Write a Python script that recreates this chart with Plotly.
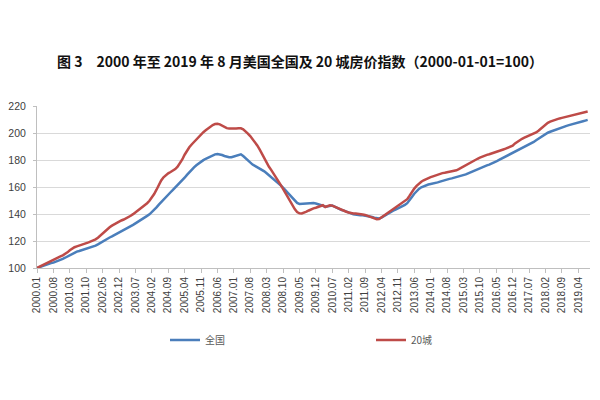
import plotly.graph_objects as go

years = list(range(2000, 2020))
months = [f"{y}.{m:02d}" for y in years for m in range(1, 13)][:236]

national = [
    # 2000
    100.0, 100.6, 101.3, 102.1, 102.8, 103.3, 103.6, 104.0, 104.6, 105.3, 106.0, 106.8,
    # 2001
    107.6, 108.6, 109.7, 110.7, 111.5, 112.1, 112.6, 113.1, 113.6, 114.2, 114.8, 115.3,
    # 2002
    115.9, 116.6, 117.5, 118.6, 119.8, 120.9, 121.8, 122.6, 123.4, 124.3, 125.2, 126.2,
    # 2003
    127.1, 127.9, 128.8, 129.8, 130.9, 132.0, 133.1, 134.1, 135.1, 136.2, 137.4, 138.6,
    # 2004
    139.8, 141.3, 143.0, 144.9, 146.9, 148.9, 150.7, 152.5, 154.3, 156.1, 157.9, 159.6,
    # 2005
    161.2, 162.9, 164.8, 166.9, 169.0, 171.0, 172.8, 174.5, 176.1, 177.5, 178.8, 179.9,
    # 2006
    180.9, 181.8, 182.7, 183.5, 184.2, 184.5, 184.3, 183.7, 183.0, 182.4, 182.0, 182.0,
    # 2007
    182.5, 183.3, 184.0, 184.2, 182.9, 181.2, 179.3, 177.8, 176.6, 175.6, 174.7, 173.9,
    # 2008
    172.9, 171.6, 170.2, 168.8, 167.4, 166.0, 164.5, 162.9, 161.2, 159.5, 157.6, 155.6,
    # 2009
    153.5, 151.4, 149.6, 148.2, 147.5, 147.6, 148.0, 148.3, 148.4, 148.3, 148.1, 147.8,
    # 2010
    147.4, 146.8, 146.1, 145.4, 145.6, 146.3, 146.2, 145.4, 144.4, 143.6, 142.9, 142.5,
    # 2011
    142.0, 141.2, 140.5, 139.8, 139.4, 139.2, 139.1, 139.0, 138.8, 138.5, 138.1, 137.8,
    # 2012
    137.3, 136.8, 136.7, 137.3, 138.4, 139.7, 140.8, 141.7, 142.5, 143.3, 144.1, 144.9,
    # 2013
    145.8, 146.8, 148.0, 150.0, 152.6, 155.0, 157.0, 158.6, 159.8, 160.6, 161.3, 161.8,
    # 2014
    162.2, 162.5, 162.9, 163.4, 164.0, 164.6, 165.1, 165.6, 166.0, 166.4, 166.8, 167.2,
    # 2015
    167.6, 168.0, 168.6, 169.3, 170.1, 170.9, 171.7, 172.5, 173.2, 173.9, 174.6, 175.3,
    # 2016
    176.0, 176.6, 177.2, 178.0, 178.9, 179.9, 180.8, 181.7, 182.6, 183.5, 184.4, 185.2,
    # 2017
    186.0, 186.8, 187.6, 188.5, 189.4, 190.4, 191.4, 192.4, 193.4, 194.6, 195.8, 197.0,
    # 2018
    198.2, 199.3, 200.2, 200.9, 201.6, 202.3, 203.0, 203.6, 204.2, 204.8, 205.3, 205.8,
    # 2019
    206.2, 206.7, 207.2, 207.7, 208.2, 208.7, 209.2, 209.7,
]

city20 = [
    # 2000
    100.0, 100.9, 101.9, 102.9, 103.8, 104.6, 105.3, 106.0, 106.8, 107.7, 108.6, 109.4,
    # 2001
    110.4, 111.6, 113.1, 114.4, 115.4, 116.0, 116.5, 117.0, 117.6, 118.3, 119.0, 119.7,
    # 2002
    120.4, 121.2, 122.4, 124.0, 125.7, 127.4, 128.9, 130.2, 131.4, 132.5, 133.5, 134.4,
    # 2003
    135.2, 135.9, 136.7, 137.6, 138.7, 139.9, 141.2, 142.5, 143.8, 145.1, 146.5, 148.0,
    # 2004
    149.8, 152.0, 154.8, 158.0, 161.6, 164.8, 167.2, 168.9, 170.1, 171.1, 172.1, 173.3,
    # 2005
    175.0, 177.3, 180.4, 183.9, 186.9, 189.4, 191.5, 193.4, 195.3, 197.2, 199.0, 200.6,
    # 2006
    202.0, 203.4, 204.8, 205.9, 206.6, 206.8, 206.4, 205.5, 204.4, 203.6, 203.3, 203.2,
    # 2007
    203.2, 203.4, 203.6, 203.5, 202.8, 201.4, 199.6, 197.7, 195.6, 193.4, 190.8, 187.8,
    # 2008
    184.5, 181.0, 177.8, 175.0, 172.5, 170.0, 167.3, 164.5, 161.6, 158.6, 155.6, 152.5,
    # 2009
    149.3, 146.3, 143.6, 141.5, 140.5, 140.4, 140.9, 141.7, 142.6, 143.5, 144.2, 144.6,
    # 2010
    145.2, 146.2, 146.5, 145.2, 145.6, 146.5, 146.2, 145.4, 144.5, 143.6, 142.9, 142.3,
    # 2011
    141.7, 141.1, 140.6, 140.3, 140.3, 140.2, 140.0, 139.7, 139.3, 138.7, 138.0, 137.2,
    # 2012
    136.6, 136.2, 136.3, 137.5, 138.9, 140.3, 141.6, 142.8, 143.8, 144.9, 146.0, 147.2,
    # 2013
    148.4, 149.5, 151.0, 153.5, 156.3, 158.8, 160.8, 162.5, 163.9, 165.0, 165.9, 166.7,
    # 2014
    167.3, 167.9, 168.6, 169.3, 169.9, 170.3, 170.6, 170.9, 171.1, 171.4, 171.9, 172.4,
    # 2015
    173.2, 174.2, 175.3, 176.4, 177.4, 178.3, 179.2, 180.1, 180.9, 181.7, 182.5, 183.2,
    # 2016
    183.8, 184.3, 184.8, 185.4, 186.0, 186.6, 187.2, 187.8, 188.4, 189.1, 189.8, 190.6,
    # 2017
    192.3, 193.6, 194.8, 195.7, 196.5, 197.2, 197.9, 198.6, 199.4, 200.4, 201.7, 203.2,
    # 2018
    204.8, 206.3, 207.5, 208.4, 209.1, 209.7, 210.3, 210.8, 211.2, 211.6, 212.0, 212.4,
    # 2019
    212.8, 213.3, 213.7, 214.2, 214.7, 215.2, 215.6, 215.9,
]

tick_labels = months[::7]
y_ticks = [100, 120, 140, 160, 180, 200, 220]

title_text = "图 3　2000 年至 2019 年 8 月美国全国及 20 城房价指数（2000-01-01=100）"

fig = go.Figure()
fig.add_trace(go.Scatter(x=months, y=national, mode="lines", name="全国",
                         line=dict(color="#4A7EBB", width=2.5), legend="legend"))
fig.add_trace(go.Scatter(x=months, y=city20, mode="lines", name="20城",
                         line=dict(color="#BE4B48", width=2.5), legend="legend2"))

legend_font = dict(family="Noto Sans CJK SC", size=10, color="#595959")

fig.update_layout(
    width=600, height=400,
    paper_bgcolor="white", plot_bgcolor="white",
    margin=dict(l=37, r=10, t=106, b=132, autoexpand=False),
    title=dict(text=title_text, x=0.5, xanchor="center", xref="container",
               y=1 - 62 / 400, yanchor="middle", yref="container",
               font=dict(family="Noto Sans CJK SC", size=14, color="#111111", weight="bold")),
    showlegend=True,
    legend=dict(orientation="h", x=(165 - 37) / 553, xanchor="left",
                y=(268 - 340) / 162, yanchor="middle", itemwidth=30,
                font=legend_font, bgcolor="rgba(0,0,0,0)"),
    legend2=dict(orientation="h", x=(371 - 37) / 553, xanchor="left",
                 y=(268 - 340) / 162, yanchor="middle", itemwidth=30,
                 font=legend_font, bgcolor="rgba(0,0,0,0)"),
    xaxis=dict(type="category", range=[0, 236], tickmode="array", tickvals=tick_labels,
               ticktext=tick_labels, tickangle=-90, showgrid=False, automargin=False,
               showline=True, linecolor="#BFBFBF", linewidth=1,
               ticks="outside", ticklen=4, tickcolor="#BFBFBF",
               tickfont=dict(family="Liberation Sans", size=10, color="#404040"),
               zeroline=False),
    yaxis=dict(range=[100, 220], tickvals=y_ticks, showgrid=True, gridcolor="#D9D9D9",
               gridwidth=1, showline=True, linecolor="#BFBFBF", linewidth=1,
               automargin=False, ticklabelstandoff=5,
               ticks="outside", ticklen=3, tickcolor="#BFBFBF",
               tickfont=dict(family="Liberation Sans", size=10.5, color="#404040"),
               zeroline=False),
)

fig.write_html("out.html", config={"displayModeBar": False},
               post_script="document.body.style.margin='0';document.body.style.padding='0';")
